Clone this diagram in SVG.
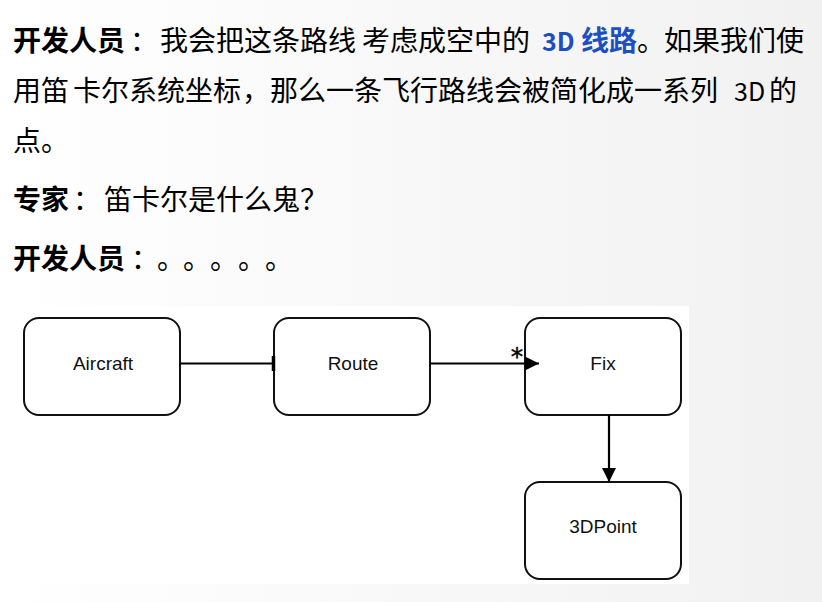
<svg xmlns="http://www.w3.org/2000/svg" width="822" height="602" viewBox="0 0 822 602">
<defs>
<linearGradient id="bg" x1="0" y1="0" x2="1" y2="0">
<stop offset="0" stop-color="#ffffff"/>
<stop offset="1" stop-color="#f1f1f1"/>
</linearGradient>
<marker id="tri" viewBox="0 0 14 14" refX="14" refY="7" markerWidth="14" markerHeight="14" markerUnits="userSpaceOnUse" orient="auto">
<path d="M0,0 L14,7 L0,14 Z" fill="#000"/>
</marker>
</defs>
<style>
.t{font-family:"Noto Sans CJK SC","Noto Sans",sans-serif;font-size:28px;fill:#000}
.b{font-weight:bold}
.blue{fill:#1e4fc0;font-weight:bold}
.num{font-size:25px}
.box{fill:#fff;stroke:#111;stroke-width:2}
.lbl{font-family:"Liberation Sans",Arial,sans-serif;font-size:19px;fill:#111;text-anchor:middle}
.conn{stroke:#000;stroke-width:2.2;fill:none}
.star{font-family:"DejaVu Sans",sans-serif;font-size:25px;fill:#000;stroke:#000;stroke-width:0.4;text-anchor:middle}
</style>
<rect x="0" y="0" width="822" height="602" fill="url(#bg)"/>
<g id="text">
<text class="t b" x="13" y="51">开发人员</text>
<text class="t" x="130" y="51">：</text>
<text class="t" x="160" y="51">我会把这条路线</text>
<text class="t" x="362" y="51">考虑成空中的</text>
<text class="t blue num" x="542" y="51">3D</text>
<text class="t blue" x="581" y="51">线路</text>
<text class="t" x="637" y="51">。</text>
<text class="t" x="664" y="51">如果我们使</text>
<text class="t" x="13" y="101">用笛</text>
<text class="t" x="73" y="101">卡尔系统坐标</text>
<text class="t" x="242" y="101">，</text>
<text class="t" x="270" y="101">那么一条飞行路线会被简化成一系列</text>
<text class="t num" x="734" y="101">3D</text>
<text class="t" x="769" y="101">的</text>
<text class="t" x="13" y="151">点。</text>
<text class="t b" x="13" y="210">专家</text>
<text class="t" x="73" y="210">：</text>
<text class="t" x="104" y="210">笛卡尔是什么鬼？</text>
<text class="t b" x="13" y="269">开发人员</text>
<text class="t" x="131" y="269">：</text>
<text class="t" x="157" y="269">。</text>
<text class="t" x="183" y="269">。</text>
<text class="t" x="210" y="269">。</text>
<text class="t" x="238" y="269">。</text>
<text class="t" x="265" y="269">。</text>
</g>
<rect x="17" y="306" width="672" height="278" fill="#fff"/>
<g id="node-aircraft">
<rect class="box" x="24" y="318" width="156" height="97" rx="15"/>
<text class="lbl" x="103" y="370">Aircraft</text>
</g>
<g id="node-route">
<rect class="box" x="274" y="318" width="156" height="97" rx="15"/>
<text class="lbl" x="353" y="370">Route</text>
</g>
<g id="node-fix">
<rect class="box" x="525" y="318" width="156" height="97" rx="15"/>
<text class="lbl" x="603" y="370">Fix</text>
</g>
<g id="node-3dpoint">
<rect class="box" x="525" y="482" width="156" height="97" rx="15"/>
<text class="lbl" x="603" y="533">3DPoint</text>
</g>
<g id="connectors">
<line class="conn" x1="180" y1="363.5" x2="273" y2="363.5"/>
<line x1="273.5" y1="356" x2="273.5" y2="371" stroke="#000" stroke-width="3.5"/>
<line class="conn" x1="430" y1="363.5" x2="539" y2="363.5" marker-end="url(#tri)"/>
<text class="star" x="517" y="365">*</text>
<line class="conn" x1="609" y1="415" x2="609" y2="482" marker-end="url(#tri)"/>
</g>
</svg>
